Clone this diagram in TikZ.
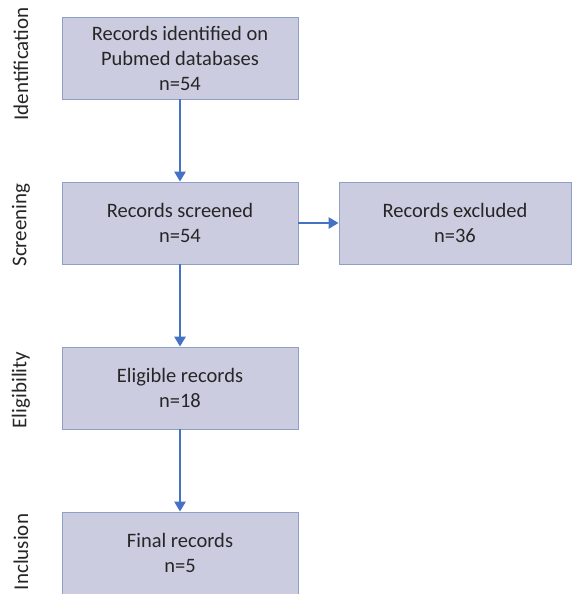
\documentclass[tikz,border=0pt]{standalone}
\usepackage{fontspec}
\setmainfont{Carlito}
\usetikzlibrary{arrows.meta}
\definecolor{boxfill}{HTML}{CBCCE0}
\definecolor{boxline}{HTML}{8FA0C8}
\definecolor{arrowc}{HTML}{4472C4}
\definecolor{textc}{HTML}{262626}
\tikzset{
  stagebox/.style={draw=boxline, line width=0.8pt, fill=boxfill, minimum width=236pt, minimum height=82pt, align=center, font=\fontsize{20.5}{25}\selectfont, text=textc, inner sep=0pt},
  flow/.style={draw=arrowc, line width=2.8pt, -{Triangle[length=10pt,width=11pt]}},
  stagelabel/.style={rotate=90, font=\fontsize{21}{24}\selectfont, text=textc, anchor=center}
}
\begin{document}
\begin{tikzpicture}[x=1pt,y=-1pt]
\useasboundingbox (0,0) rectangle (573,594);
\node[stagebox] (b1) at (180,58) {Records identified on\\Pubmed databases\\n=54};
\node[stagebox] (b2) at (180,223) {Records screened\\n=54};
\node[stagebox, minimum width=232pt] (b3) at (455,223) {Records excluded\\n=36};
\node[stagebox] (b4) at (180,388) {Eligible records\\n=18};
\node[stagebox] (b5) at (180,553) {Final records\\n=5};
\draw[flow] (b1.south) -- (b2.north);
\draw[flow] (b2.east) -- (b3.west);
\draw[flow] (b2.south) -- (b4.north);
\draw[flow] (b4.south) -- (b5.north);
\node[stagelabel] (l1) at (21,64) {Identification};
\node[stagelabel] (l2) at (21,225) {Screening};
\node[stagelabel] (l3) at (21,390) {Eligibility};
\node[stagelabel] (l4) at (21,552) {Inclusion};
\end{tikzpicture}
\end{document}
